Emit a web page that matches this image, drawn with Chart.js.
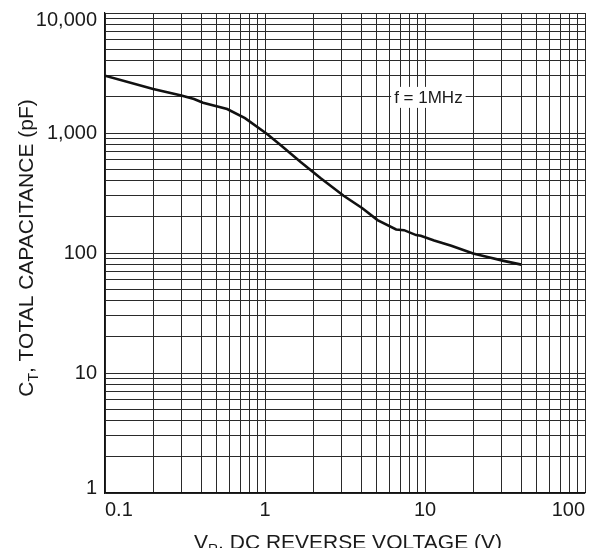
<!DOCTYPE html>
<html>
<head>
<meta charset="utf-8">
<script src="https://cdn.jsdelivr.net/npm/chart.js@4/dist/chart.umd.min.js"></script>
<style>
  html, body { margin: 0; padding: 0; background: #fff; }
  #wrap { width: 605px; height: 548px; position: relative; }
</style>
</head>
<body>
<div id="wrap"><canvas id="ctChart"></canvas></div>
<script>
// reverse voltage (V) and total capacitance (pF)
const vr = [0.1, 0.2, 0.3, 0.36, 0.41, 0.58, 0.75, 1.03, 1.25, 1.67, 2.23, 3.1, 4.06, 5.05, 6.6, 7.4, 8.8, 9.4, 11.4, 14.6, 20, 25, 31, 40];
const ct = [3000, 2330, 2050, 1920, 1790, 1585, 1330, 980, 794, 572, 419, 300, 236, 188, 157, 155, 141, 139, 127, 115, 99, 92, 86, 80];

// grid lines (1..9 per decade) and the labelled ticks
const xGrid = [0.1, 0.2, 0.3, 0.4, 0.5, 0.6, 0.7, 0.8, 0.9, 1, 2, 3, 4, 5, 6, 7, 8, 9, 10, 20, 30, 40, 50, 60, 70, 80, 90, 100];
const yGrid = [1, 2, 3, 4, 5, 6, 7, 8, 9, 10, 20, 30, 40, 50, 60, 70, 80, 90, 100, 200, 300, 400, 500, 600, 700, 800, 900,
  1000, 2000, 3000, 4000, 5000, 6000, 7000, 8000, 9000, 10000];
const xTickValues = [0.1, 1, 10, 100];
const xTickLabels = ["0.1", "1", "10", "100"];
const yTickValues = [1, 10, 100, 1000, 10000];
const yTickLabels = ["1", "10", "100", "1,000", "10,000"];

const noteText = "f = 1MHz";
const noteAt = { x: 10.5, y: 2000 };

const FONT = "'Liberation Sans', Arial, Helvetica, sans-serif";
const INK = "#1a1a1a";

// subscript text: [main, sub, rest]
function drawSubText(ctx, parts, x, y, size) {
  const [main, sub, rest] = parts;
  ctx.font = size + "px " + FONT;
  const w1 = ctx.measureText(main).width;
  const w3 = ctx.measureText(rest).width;
  ctx.font = Math.round(size * 0.68) + "px " + FONT;
  const w2 = ctx.measureText(sub).width;
  let cx = x - (w1 + w2 + w3) / 2;
  ctx.textAlign = "left";
  ctx.textBaseline = "alphabetic";
  ctx.font = size + "px " + FONT;
  ctx.fillText(main, cx, y);
  cx += w1;
  ctx.font = Math.round(size * 0.68) + "px " + FONT;
  ctx.fillText(sub, cx, y + size * 0.25);
  cx += w2;
  ctx.font = size + "px " + FONT;
  ctx.fillText(rest, cx, y);
}

const extrasPlugin = {
  id: "extras",
  afterDraw(chart) {
    const { ctx, chartArea, scales } = chart;
    ctx.save();
    ctx.fillStyle = INK;

    // y tick labels, kept inside the plot at the ends
    ctx.font = "20px " + FONT;
    ctx.textAlign = "right";
    ctx.textBaseline = "middle";
    yTickValues.forEach((v, i) => {
      let py = scales.y.getPixelForValue(v);
      py = Math.min(Math.max(py, chartArea.top + 7), chartArea.bottom - 5);
      ctx.fillText(yTickLabels[i], chartArea.left - 8, py);
    });

    // frequency note with white box
    ctx.font = "17px " + FONT;
    const nx = scales.x.getPixelForValue(noteAt.x);
    const ny = scales.y.getPixelForValue(noteAt.y);
    const nw = ctx.measureText(noteText).width;
    ctx.fillStyle = "#fff";
    ctx.fillRect(nx - nw / 2 - 3, ny - 10, nw + 6, 21);
    ctx.fillStyle = INK;
    ctx.textAlign = "center";
    ctx.textBaseline = "middle";
    ctx.fillText(noteText, nx, ny + 1);

    // x axis title
    drawSubText(ctx, ["V", "R", ", DC REVERSE VOLTAGE (V)"], (chartArea.left + chartArea.right) / 2 + 3, 549, 21);

    // y axis title
    ctx.translate(33, 248);
    ctx.rotate(-Math.PI / 2);
    drawSubText(ctx, ["C", "T", ", TOTAL CAPACITANCE (pF)"], 0, 0, 21);
    ctx.restore();
  },
};

new Chart(document.getElementById("ctChart"), {
  type: "line",
  data: {
    datasets: [
      {
        data: vr.map((v, i) => ({ x: v, y: ct[i] })),
        borderColor: "#111",
        borderWidth: 2.6,
        pointRadius: 0,
        tension: 0,
        fill: false,
      },
    ],
  },
  options: {
    responsive: true,
    maintainAspectRatio: false,
    animation: false,
    layout: { padding: { top: 13, right: 20, left: 0, bottom: 0 } },
    plugins: { legend: { display: false }, tooltip: { enabled: false } },
    scales: {
      x: {
        type: "logarithmic",
        min: 0.1,
        max: 100,
        afterBuildTicks: (scale) => {
          scale.ticks = xGrid.map((v) => ({ value: v }));
        },
        afterFit: (scale) => {
          scale.height = 55;
        },
        grid: { color: "#2a2a2a", lineWidth: 1, drawTicks: false },
        border: { color: "#111", width: 1.2 },
        ticks: {
          autoSkip: false,
          maxRotation: 0,
          align: "inner",
          padding: 5,
          color: INK,
          font: { size: 20, family: FONT },
          callback: (value) => {
            const i = xTickValues.findIndex((t) => Math.abs(t - value) < 1e-9);
            return i >= 0 ? xTickLabels[i] : "";
          },
        },
      },
      y: {
        type: "logarithmic",
        min: 1,
        max: 10000,
        afterBuildTicks: (scale) => {
          scale.ticks = yGrid.map((v) => ({ value: v }));
        },
        afterFit: (scale) => {
          scale.width = 105;
        },
        grid: { color: "#2a2a2a", lineWidth: 1, drawTicks: false },
        border: { color: "#111", width: 1.2 },
        ticks: { display: false },
      },
    },
  },
  plugins: [extrasPlugin],
});
</script>
</body>
</html>
